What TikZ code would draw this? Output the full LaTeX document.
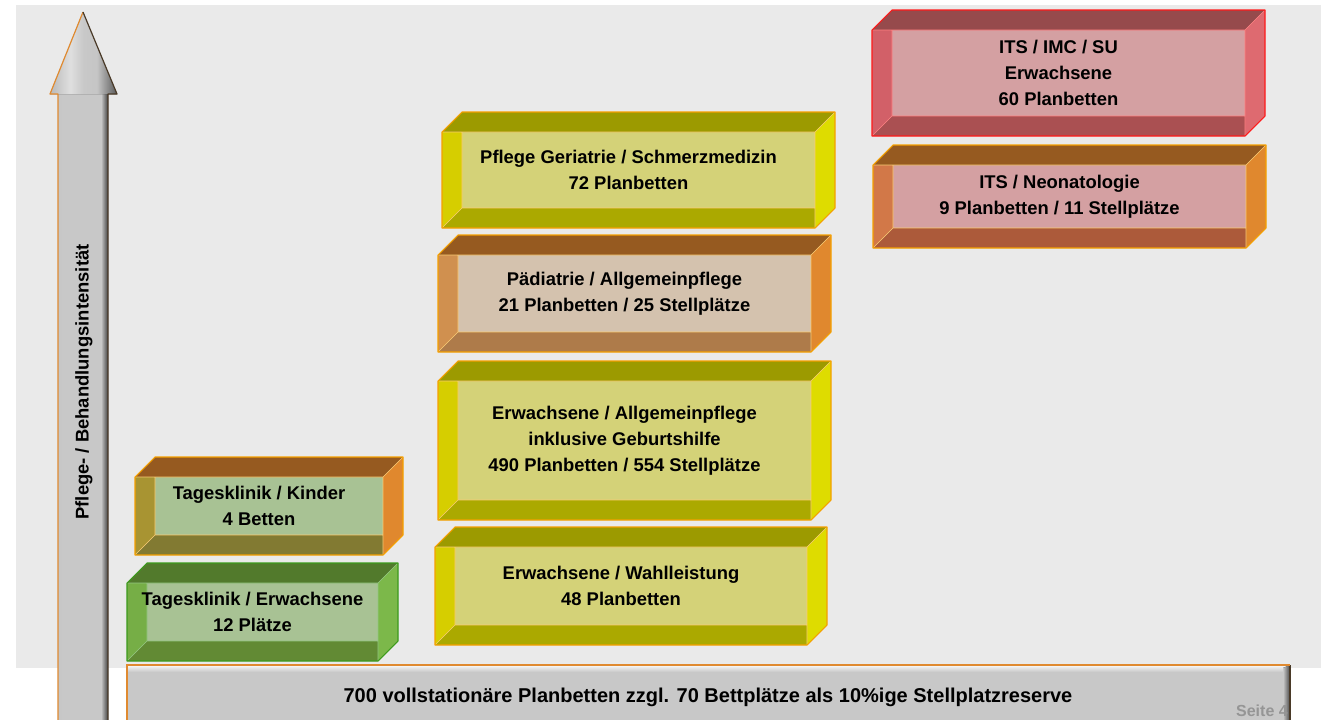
\documentclass[tikz,border=0pt]{standalone}
\usepackage{fontspec}
\setmainfont{Liberation Sans}
\usetikzlibrary{positioning}

\definecolor{panelgray}{HTML}{EAEAEA}
\definecolor{barfill}{HTML}{C8C8C8}
\definecolor{arrowline}{HTML}{E08A30}
\definecolor{shadowline}{HTML}{4A3A28}
\definecolor{pagegray}{HTML}{959595}

% top, right side, left strip, inner face, bottom strip, outline
\newcommand{\boxcolours}[7]{%
  \definecolor{#1Top}{HTML}{#2}\definecolor{#1Side}{HTML}{#3}%
  \definecolor{#1Left}{HTML}{#4}\definecolor{#1In}{HTML}{#5}%
  \definecolor{#1Bot}{HTML}{#6}\definecolor{#1Line}{HTML}{#7}}
\boxcolours{yel}{9C9A00}{DEDC00}{D6CE00}{D4D278}{ABA900}{F5A000}
\boxcolours{ped}{965A20}{E0882E}{D0904F}{D4C2AE}{AE7B4A}{F5A000}
\boxcolours{kid}{965A20}{E0882E}{A89432}{A8C294}{827A32}{F5A000}
\boxcolours{grn}{527A2C}{7CB84A}{76AE46}{A8C294}{628A34}{3C9A1C}
\boxcolours{icu}{964A4C}{DE6A70}{D26068}{D4A0A2}{AA5052}{FF1A1A}
\boxcolours{neo}{965A20}{E0882E}{D27848}{D4A0A2}{AC5A3A}{F5A000}

\pgfdeclarehorizontalshading{headbevel}{100bp}{color(0bp)=(gray!55); color(25bp)=(gray!55);
  color(40bp)=(gray!25); color(50bp)=(barfill); color(60bp)=(gray!45); color(75bp)=(gray!70!black);
  color(100bp)=(gray!70!black)}

% colour set, name, front face x1, y1, x2, y2 (depth 20)
\newcommand{\wardbox}[6]{%
  \pgfmathsetmacro{\wxa}{#3+20}\pgfmathsetmacro{\wya}{#4-20}%
  \pgfmathsetmacro{\wxb}{#5+20}\pgfmathsetmacro{\wyb}{#6-20}%
  \fill[#1In] (\wxa,#4) rectangle (#5,\wyb);
  \fill[#1Top] (#3,#4) -- (\wxa,\wya) -- (\wxb,\wya) -- (#5,#4) -- cycle;
  \fill[#1Side] (#5,#4) -- (\wxb,\wya) -- (\wxb,\wyb) -- (#5,#6) -- cycle;
  \fill[#1Left] (#3,#4) -- (\wxa,#4) -- (\wxa,\wyb) -- (#3,#6) -- cycle;
  \fill[#1Bot] (#3,#6) -- (\wxa,\wyb) -- (#5,\wyb) -- (#5,#6) -- cycle;
  \draw[#1Line!55!white, line width=0.4pt] (#3,#4) -- (#5,#4) -- (#5,#6)
    (\wxa,#4) -- (\wxa,\wyb) -- (#5,\wyb) (#3,#6) -- (\wxa,\wyb) (#5,#4) -- (\wxb,\wya);
  \draw[#1Line, line width=0.8pt, line join=round] (#3,#4) -- (\wxa,\wya) -- (\wxb,\wya)
    -- (\wxb,\wyb) -- (#5,#6) -- (#3,#6) -- cycle;
  \coordinate (#2) at ({(#3+#5)/2},{(#4+\wyb)/2});
}

\begin{document}
\begin{tikzpicture}[x=0.75pt,y=-0.75pt,
  ward text/.style={font=\fontsize{13.8}{19.6}\selectfont\bfseries, align=center, inner sep=0pt},
  axis text/.style={font=\fontsize{13.8}{16}\selectfont\bfseries, rotate=90, inner sep=0pt}]
  \useasboundingbox (0,0) rectangle (1321,719);
  \clip (0,0) rectangle (1321,719);
  \fill[white] (0,0) rectangle (1321,719);
  \fill[panelgray] (16,5) rectangle (1321,668);

  \fill[barfill] (58,94) rectangle (108,730);
  \fill[left color=gray!45, right color=barfill] (58,94) rectangle (63,730);
  \fill[left color=barfill, right color=black!75] (101,94) rectangle (108,730);
  \fill[shading=headbevel] (50,94) -- (83,12) -- (117,94) -- cycle;
  \draw[arrowline, line width=0.9pt, line join=round] (58,730) -- (58,94) -- (50,94) -- (83,12);
  \draw[shadowline, line width=0.9pt, line join=round] (83,12) -- (117,94) -- (108,94) -- (108,730);
  \node[axis text] (axis) at (84,382) {Pflege- / Behandlungsintensität};

  \wardbox{grn}{erwtkc}{127}{583}{378}{661}
  \wardbox{kid}{kidtkc}{135}{477}{383}{555}
  \wardbox{yel}{wahlc}{435}{547}{807}{645}
  \wardbox{yel}{allgc}{438}{381}{811}{520}
  \wardbox{ped}{pedc}{438}{255}{811}{352}
  \wardbox{yel}{geric}{442}{132}{815}{228}
  \wardbox{neo}{neoc}{873}{165}{1246}{248}
  \wardbox{icu}{icuc}{872}{30}{1245}{136}

  \node[ward text] (erwtk) at (erwtkc) {Tagesklinik / Erwachsene\\12 Plätze};
  \node[ward text] (kidtk) at (kidtkc) {Tagesklinik / Kinder\\4 Betten};
  \node[ward text] (wahl) at (wahlc) {Erwachsene / Wahlleistung\\48 Planbetten};
  \node[ward text] (allg) at (allgc) {Erwachsene / Allgemeinpflege\\inklusive Geburtshilfe\\490 Planbetten / 554 Stellplätze};
  \node[ward text] (ped) at (pedc) {Pädiatrie / Allgemeinpflege\\21 Planbetten / 25 Stellplätze};
  \node[ward text] (geri) at (geric) {Pflege Geriatrie / Schmerzmedizin\\72 Planbetten};
  \node[ward text] (neo) at (neoc) {ITS / Neonatologie\\9 Planbetten / 11 Stellplätze};
  \node[ward text] (icu) at (icuc) {ITS / IMC / SU\\Erwachsene\\60 Planbetten};

  \fill[barfill] (127,665) rectangle (1290,725);
  \fill[top color=white!90!barfill, bottom color=barfill] (127,665) rectangle (1290,672);
  \fill[left color=barfill, right color=gray!55!black] (1283,668) -- (1290,665) -- (1290,725) -- (1283,725) -- cycle;
  \draw[shadowline, line width=0.8pt] (1290,665) -- (1290,725);
  \draw[arrowline, line width=0.9pt] (127,725) -- (127,665) -- (1290,665);
  \node[ward text, font=\fontsize{15}{16}\selectfont\bfseries] (base) at (708,697) {700 vollstationäre Planbetten zzgl. 70 Bettplätze als 10\%ige Stellplatzreserve};
  \node[font=\fontsize{12}{14}\selectfont\bfseries, text=pagegray, anchor=base east, inner sep=0pt] (page) at (1288,716) {Seite 4};
\end{tikzpicture}
\end{document}
